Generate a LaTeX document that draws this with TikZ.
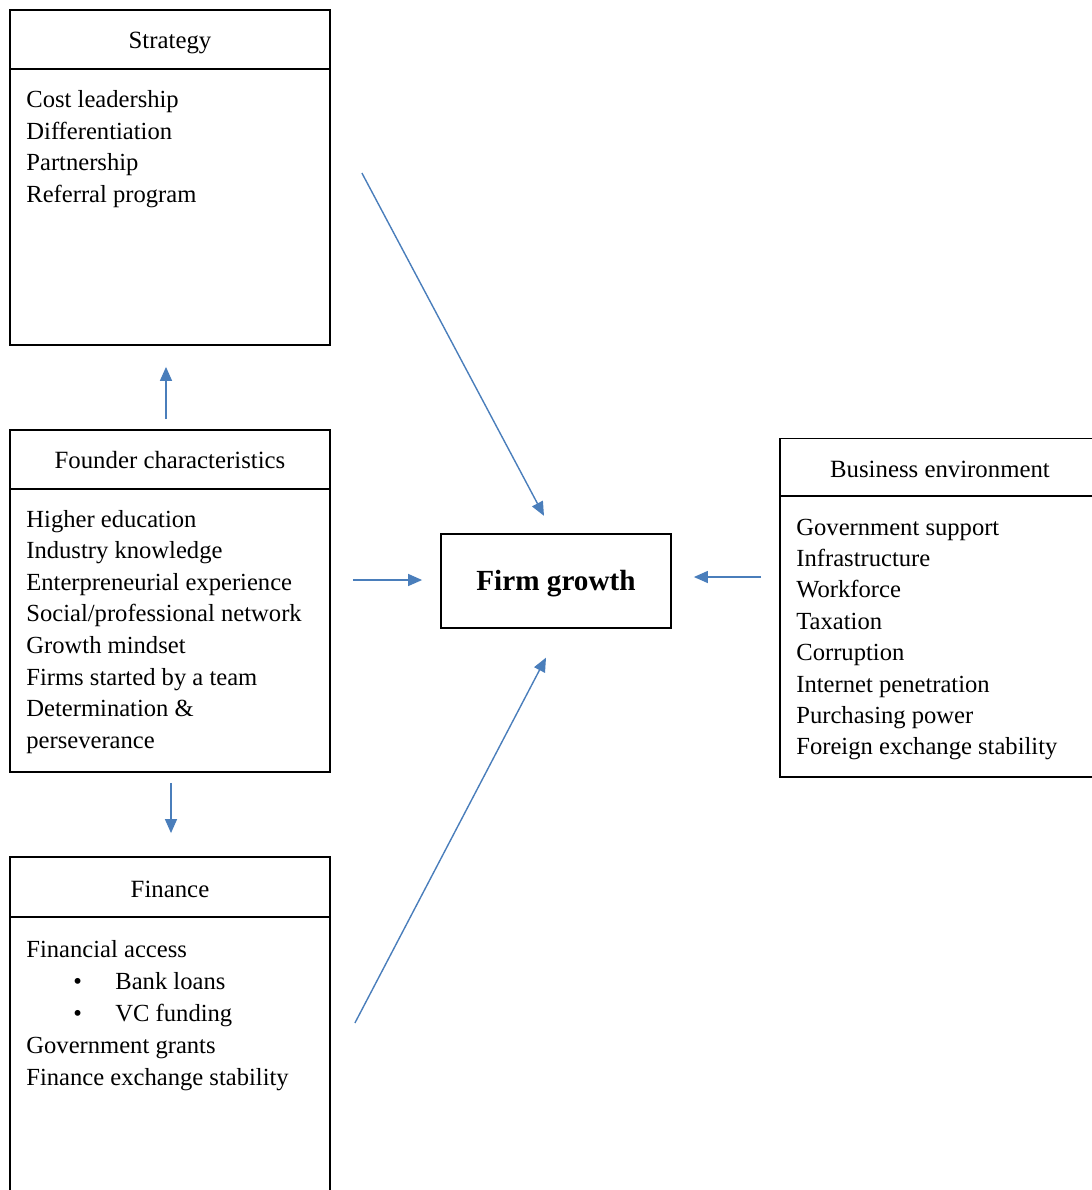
\documentclass[tikz,border=0pt]{standalone}
\usepackage{fontspec}
\setmainfont{Liberation Serif}
\usetikzlibrary{arrows.meta,calc}
\definecolor{linkblue}{RGB}{74,126,187}
\tikzset{
  box/.style={draw, line width=0.9pt, minimum width=160pt, inner sep=0pt},
  title/.style={inner sep=0pt, text height=8.5pt, text depth=2.5pt, font=\fontsize{12.4}{15}\selectfont},
  item/.style={anchor=base west, inner sep=0pt, font=\fontsize{12.3}{15}\selectfont},
  link/.style={draw=linkblue, line width=0.7pt, -{Triangle[length=7pt,width=6pt]}}
}
\begin{document}
\begin{tikzpicture}[x=0.5pt,y=-0.5pt]
	\useasboundingbox (0,0) rectangle (1092,1190);
	\node[box, minimum height=167.5pt] (strategy) at (170,177.5) {};
	\node[box, minimum height=171pt] (founder) at (170,601) {};
	\node[box, minimum height=171.5pt] (finance) at (170,1028.5) {};
	\node[box, minimum height=169.25pt] (business) at (940,607.75) {};
	\node[box, minimum width=115pt, minimum height=47.25pt, text height=11pt, text depth=1.3pt,
		font=\bfseries\fontsize{14.6}{17}\selectfont] (growth) at (556,581) {Firm growth};

	\draw[line width=0.9pt] ([yshift=-29.75pt]strategy.north west) -- ([yshift=-29.75pt]strategy.north east);
	\draw[line width=0.9pt] ([yshift=-29.75pt]founder.north west) -- ([yshift=-29.75pt]founder.north east);
	\draw[line width=0.9pt] ([yshift=-30.5pt]finance.north west) -- ([yshift=-30.5pt]finance.north east);
	\draw[line width=0.9pt] ([yshift=-29pt]business.north west) -- ([yshift=-29pt]business.north east);

	\node[title] (strategyhead) at ([yshift=-16.75pt]strategy.north) {Strategy};
	\node[title] (founderhead) at ([yshift=-16.75pt]founder.north) {Founder characteristics};
	\node[title] (financehead) at ([yshift=-17.5pt]finance.north) {Finance};
	\node[title] (businesshead) at ([yshift=-16.75pt]business.north) {Business environment};

	\foreach \t [count=\i] in {Cost leadership, Differentiation, Partnership, Referral program}
		\node[item] (strat\i) at (26,75.8+31.7*\i) {\t};
	\foreach \t [count=\i] in {Higher education, Industry knowledge, Enterpreneurial experience,
		Social/professional network, Growth mindset, Firms started by a team, Determination \&, perseverance}
		\node[item] (found\i) at (26,495.4+31.6*\i) {\t};
	\foreach \t [count=\i] in {Government support, Infrastructure, Workforce, Taxation, Corruption,
		Internet penetration, Purchasing power, Foreign exchange stability}
		\node[item] (env\i) at (796,503.6+31.4*\i) {\t};

	\node[item] (fin1) at (26,957) {Financial access};
	\node[item] (dot1) at (73,989) {\textbullet};
	\node[item] (fin2) at (115,989) {Bank loans};
	\node[item] (dot2) at (73,1021) {\textbullet};
	\node[item] (fin3) at (115,1021) {VC funding};
	\node[item] (fin4) at (26,1053) {Government grants};
	\node[item] (fin5) at (26,1085) {Finance exchange stability};

	\draw[link] ($(strategy.east)+(31,-4.5)$) -- ($(growth.north)+(-12,-17)$);
	\draw[link] ($(founder.east)+(22,-21)$) -- ($(growth.west)+(-18,-1)$);
	\draw[link] ($(finance.east)+(24,-5.5)$) -- ($(growth.south)+(-10,28.5)$);
	\draw[link] ($(business.west)+(-18,-30.75)$) -- ($(growth.east)+(22,-4)$);
	\draw[link] ($(founder.north)+(-4,-10)$) -- ($(strategy.south)+(-4,21)$);
	\draw[link] ($(founder.south)+(1,10)$) -- ($(finance.north)+(1,-23)$);
\end{tikzpicture}
\end{document}
